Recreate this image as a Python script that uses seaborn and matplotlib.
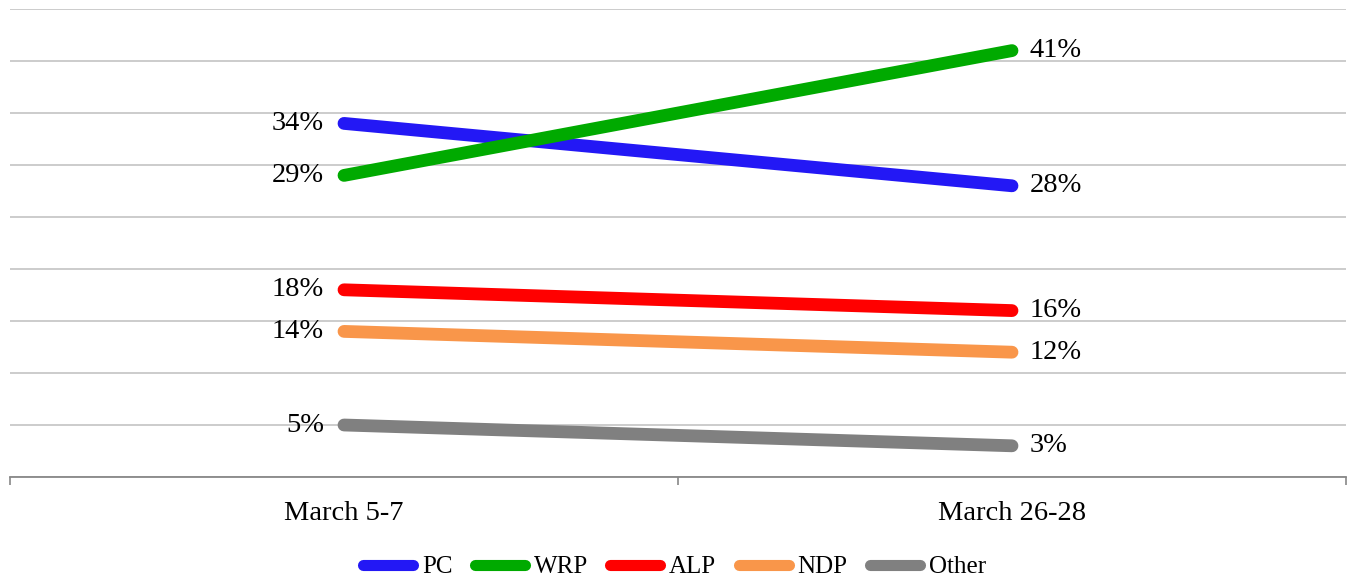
import matplotlib
matplotlib.use("Agg")
import matplotlib.pyplot as plt
import seaborn as sns
import pandas as pd

# data
periods = ["March 5-7", "March 26-28"]
parties = ["PC", "WRP", "ALP", "NDP", "Other"]
pc = [34, 28]
wrp = [29, 41]
alp = [18, 16]
ndp = [14, 12]
other = [5, 3]
colors = ["#2318F5", "#00AA00", "#FF0000", "#F9964A", "#808080"]

series = {"PC": pc, "WRP": wrp, "ALP": alp, "NDP": ndp, "Other": other}
rows = []
for party in parties:
    for period, val in zip(periods, series[party]):
        rows.append({"Period": period, "Party": party, "Share": val})
df = pd.DataFrame(rows)

sns.set_style("white")
plt.rcParams["font.family"] = ["Liberation Serif", "DejaVu Serif"]

fig = plt.figure(figsize=(13.49, 5.79), dpi=100)
ax = fig.add_axes([10 / 1349, 1 - 477 / 579, 1336 / 1349, 468 / 579])

sns.lineplot(data=df, x="Period", y="Share", hue="Party", hue_order=parties,
             palette=colors, linewidth=9.2, solid_capstyle="round",
             sort=False, ax=ax, legend=True)

ax.set_xlim(-0.5, 1.5)
ax.set_ylim(0, 45)
ax.set_yticks(range(0, 50, 5))
ax.set_yticklabels([])
ax.tick_params(axis="y", length=0)
ax.grid(axis="y", color="#c8c8c8", linewidth=1.3)
ax.set_axisbelow(True)
ax.set_xlabel("")
ax.set_ylabel("")

# category ticks between the groups
ax.set_xticks([0, 1])
ax.set_xticklabels(periods, fontsize=20.5, color="black")
ax.set_xticks([-0.5, 0.5, 1.5], minor=True)
ax.tick_params(axis="x", which="major", length=0, pad=17)
ax.tick_params(axis="x", which="minor", length=6, width=1.2, color="#888888",
               direction="out", bottom=True)

for side in ["top", "right", "left"]:
    ax.spines[side].set_visible(False)
ax.spines["bottom"].set_color("#888888")
ax.spines["bottom"].set_linewidth(1.3)

# value labels at both ends
for party in parties:
    vals = series[party]
    ax.annotate(f"{vals[0]}%", (0, vals[0]), xytext=(-20, 0),
                textcoords="offset pixels", ha="right", va="center",
                fontsize=20.5, color="black")
    ax.annotate(f"{vals[1]}%", (1, vals[1]), xytext=(18, 0),
                textcoords="offset pixels", ha="left", va="center",
                fontsize=20.5, color="black")

handles, labels = ax.get_legend_handles_labels()
leg = ax.legend(handles, labels, loc="center",
                bbox_to_anchor=(0.5, (579 - 567) / 579),
                bbox_transform=fig.transFigure, ncol=5, frameon=False,
                fontsize=18, handlelength=2.0, handletextpad=0.35,
                columnspacing=0.9)
for line in leg.get_lines():
    line.set_linewidth(8)
for txt in leg.get_texts():
    txt.set_color("black")

fig.savefig("out.png", dpi=100)
